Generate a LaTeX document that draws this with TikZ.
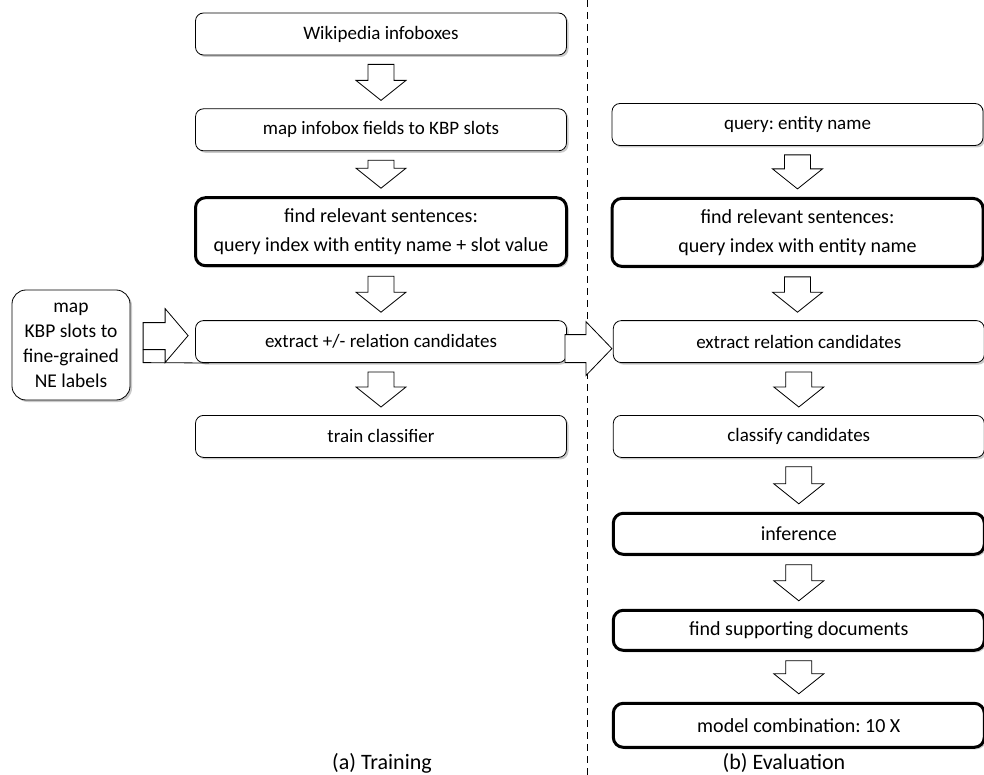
\documentclass[tikz,border=0pt]{standalone}
\usepackage{fontspec}
\setmainfont{Carlito}
\usetikzlibrary{calc,positioning,shadows}
\frenchspacing

% hollow block arrow pointing down, from one box to the next
\newcommand{\flowdown}[2]{%
  \draw[blockarr] let \p1=(#1.south), \p2=(#2.north) in
    (\x1-13pt,\y1-9pt) -- (\x1+13pt,\y1-9pt) -- (\x1+13pt,\y2+28pt)
    -- (\x1+25pt,\y2+28pt) -- (\x1,\y2+8pt) -- (\x1-25pt,\y2+28pt)
    -- (\x1-13pt,\y2+28pt) -- cycle;}

\begin{document}
\begin{tikzpicture}[
  x=1pt,y=-1pt,
  every node/.style={font=\fontsize{19}{22}\selectfont},
  box/.style={draw,rounded corners=8pt,minimum width=371pt,minimum height=42pt,
              align=center,fill=white,line width=0.8pt,
              drop shadow={shadow xshift=2pt,shadow yshift=-2pt,opacity=0.35,fill=black!60}},
  bold/.style={box,line width=3pt,rounded corners=10pt,minimum height=68pt,
               font=\fontsize{20}{29}\selectfont},
  blockarr/.style={draw,fill=white,line width=0.8pt,line join=miter},
  caption/.style={font=\fontsize{22}{26}\selectfont,anchor=base}
]
\useasboundingbox (0,0) rectangle (984,775);

% divider between the two halves
\coordinate (sepT) at (587,0);
\coordinate (sepB) at (587,775);
\draw[dashed,dash pattern=on 7pt off 5pt,line width=0.8pt] (sepT) -- (sepB);

% (a) training
\node[box] (wiki) at (381,34) {Wikipedia infoboxes};
\node[box,below=53pt of wiki] (map) {map infobox fields to KBP slots};
\node[bold,below=45pt of map] (trfind)
 {find relevant sentences:\\query index with entity name + slot value};
\node[box,below=53pt of trfind] (trext) {extract +/- relation candidates};
\node[box,below=52pt of trext] (train) {train classifier};
\node[box,rounded corners=14pt,minimum width=118pt,minimum height=110pt,
      font=\fontsize{19.5}{25}\selectfont] (ne) at (71,345)
 {map\\KBP slots to\\fine-grained\\NE labels};

\flowdown{wiki}{map}
\flowdown{map}{trfind}
\flowdown{trfind}{trext}
\flowdown{trext}{train}

% side input
\draw[blockarr] ($(trext.west)+(-7,-6)$) -- ++(-23,-27) -- ++(0,14) -- ++(-22,0)
  -- ++(0,27) -- ++(22,0) -- ++(0,13) -- cycle;
\draw[blockarr,fill=none] ($(trext.west)+(-52,8)$) -- ++(0,13) -- ($(trext.south west)+(14,0)$);

% (b) evaluation
\node[box] (query) at (797.5,124.5) {query: entity name};
\node[bold,below=51pt of query] (evfind)
 {find relevant sentences:\\query index with entity name};
\node[box,right=46pt of trext] (evext) {extract relation candidates};
\node[box,below=52pt of evext] (classify) {classify candidates};
\node[bold,minimum height=41pt,below=54pt of classify] (infer) {inference};
\node[bold,minimum height=40pt,below=53pt of infer] (support) {find supporting documents};
\node[bold,minimum height=44pt,below=50pt of support] (combine) {model combination: 10 X};

\flowdown{query}{evfind}
\flowdown{evfind}{evext}
\flowdown{evext}{classify}
\flowdown{classify}{infer}
\flowdown{infer}{support}
\flowdown{support}{combine}

% training feeds evaluation
\draw[blockarr] ($(evext.west)+(-1,7)$) -- ++(-26,-27) -- ++(0,13) -- ++(-21,0)
  -- ++(0,28) -- ++(21,0) -- ++(0,13) -- cycle;

\node[caption] (capA) at (382,769) {(a) Training};
\node[caption] (capB) at (784,769) {(b) Evaluation};
\end{tikzpicture}
\end{document}
